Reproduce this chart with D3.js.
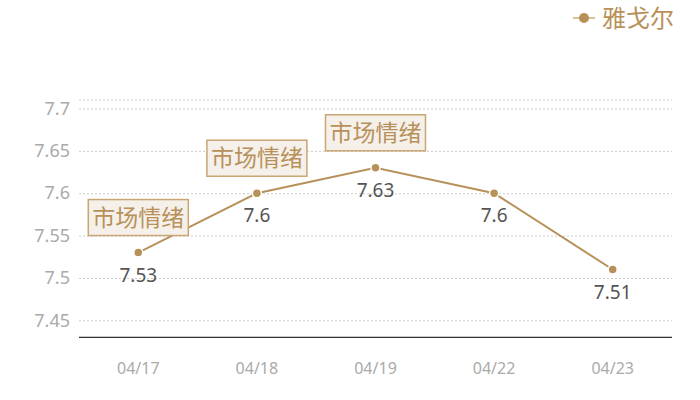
<!DOCTYPE html>
<html>
<head>
<meta charset="utf-8">
<script src="https://cdn.jsdelivr.net/npm/d3@7"></script>
<style>
  body { margin: 0; background: #fff; }
  svg { font-family: "Noto Sans", "Noto Sans CJK SC", sans-serif; }
</style>
</head>
<body>
<svg id="canvas" width="700" height="400"></svg>
<script>
let dates = ['04/17', '04/18', '04/19', '04/22', '04/23']
let prices = [7.53, 7.6, 7.63, 7.6, 7.51]
let yTicks = [7.45, 7.5, 7.55, 7.6, 7.65, 7.7]
let yDomain = [7.43, 7.71]
let seriesName = '雅戈尔'
let noteText = '市场情绪'
let notedDates = ['04/17', '04/18', '04/19']

let gold = '#b8915a'
let canvas = d3.select('#canvas')

let plotLeft = 79, plotRight = 672, plotTop = 100, plotBottom = 337.3

let xScale = d3.scaleBand().domain(dates).range([plotLeft, plotRight])
let yScale = d3.scaleLinear().domain(yDomain).range([plotBottom, plotTop])
let cx = (d) => xScale(d) + xScale.bandwidth() / 2

// grid
canvas.append('line')
    .attr('x1', plotLeft).attr('x2', plotRight)
    .attr('y1', plotTop).attr('y2', plotTop)
    .attr('stroke', '#ccc').attr('stroke-dasharray', '2,2')

let yAxis = d3.axisLeft(yScale).tickValues(yTicks).tickFormat((d) => String(d))
    .tickSize(-(plotRight - plotLeft)).tickPadding(9)
let yg = canvas.append('g').attr('transform', 'translate(' + plotLeft + ',0)').call(yAxis)
yg.select('.domain').remove()
yg.selectAll('.tick line').attr('stroke', '#ccc').attr('stroke-dasharray', '2,2')
yg.selectAll('.tick text').attr('fill', '#aaa').style('font-size', '18px')
    .style('font-family', '"Noto Sans", sans-serif')

let xAxis = d3.axisBottom(xScale).tickSize(0).tickPadding(25)
let xg = canvas.append('g').attr('transform', 'translate(0,' + plotBottom + ')').call(xAxis)
xg.select('.domain').attr('stroke', '#333').attr('stroke-width', 1.3)
    .attr('d', 'M' + plotLeft + ',0H' + plotRight)
xg.selectAll('.tick text').attr('fill', '#aaa').style('font-size', '16px')
    .style('font-family', '"Noto Sans", sans-serif')

// line
let line = d3.line().x((d, i) => cx(dates[i])).y((d) => yScale(d))
canvas.append('path')
    .datum(prices)
    .attr('d', line)
    .attr('fill', 'none')
    .attr('stroke', gold)
    .attr('stroke-width', 2)

canvas.selectAll('.dot')
    .data(prices)
    .enter()
    .append('circle')
    .attr('cx', (d, i) => cx(dates[i]))
    .attr('cy', (d) => yScale(d))
    .attr('r', 4.5)
    .attr('fill', gold)
    .attr('stroke', '#fff')
    .attr('stroke-width', 1.5)

canvas.selectAll('.val')
    .data(prices)
    .enter()
    .append('text')
    .attr('x', (d, i) => cx(dates[i]))
    .attr('y', (d) => yScale(d) + 29)
    .attr('text-anchor', 'middle')
    .attr('fill', '#555')
    .style('font-size', '19px')
    .text((d) => d)

// notes
let notes = canvas.selectAll('.note')
    .data(notedDates)
    .enter()
    .append('g')
    .attr('transform', (d) => {
        let v = prices[dates.indexOf(d)]
        return 'translate(' + cx(d) + ',' + (yScale(v) - 17) + ')'
    })

notes.append('rect')
    .attr('x', -50).attr('y', -36)
    .attr('width', 100).attr('height', 36)
    .attr('fill', '#f5f0e9')
    .attr('stroke', '#c9a673')
    .attr('stroke-width', 1.5)

notes.append('text')
    .attr('x', 0).attr('y', -10)
    .attr('text-anchor', 'middle')
    .attr('fill', gold)
    .style('font-size', '23px')
    .style('font-family', '"Noto Sans CJK SC", sans-serif')
    .text(noteText)

// legend
let legend = canvas.append('g').attr('transform', 'translate(573,18)')
legend.append('line').attr('x1', 0).attr('x2', 22).attr('y1', 0).attr('y2', 0)
    .attr('stroke', '#d9c2a0').attr('stroke-width', 2)
legend.append('circle').attr('cx', 11).attr('cy', 0).attr('r', 5).attr('fill', gold)
legend.append('text').attr('x', 29).attr('y', 9)
    .attr('fill', gold).style('font-size', '24px')
    .style('font-family', '"Noto Sans CJK SC", sans-serif')
    .text(seriesName)
</script>
</body>
</html>
